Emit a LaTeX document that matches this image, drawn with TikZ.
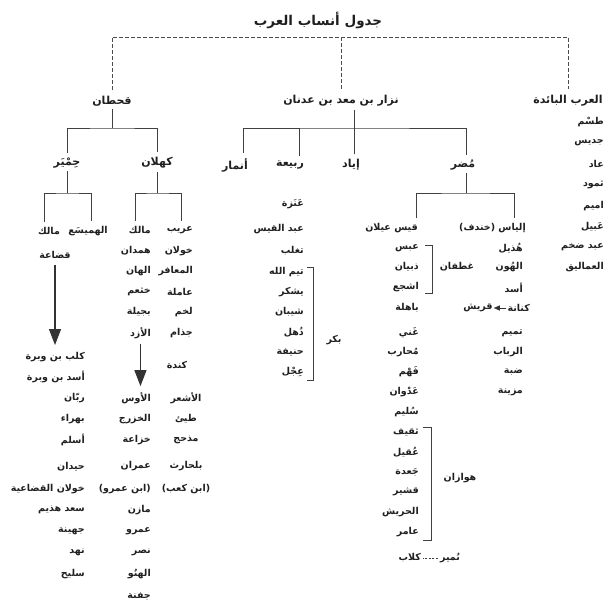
\documentclass[tikz,border=0pt]{standalone}
\usepackage{fontspec}
\newfontfamily\arabicfont[Script=Arabic]{DejaVu Sans}
\TeXXeTstate=1
\usetikzlibrary{arrows.meta}
\newcommand\artxt[1]{\beginR #1\endR}
\begin{document}
\begin{tikzpicture}[x=1pt,y=-1pt,
  it/.style={inner sep=0pt, text=black!88, font=\arabicfont\bfseries\fontsize{9.5}{11}\selectfont},
  hd/.style={inner sep=0pt, text=black!88, font=\arabicfont\bfseries\fontsize{11}{13}\selectfont},
  ttl/.style={inner sep=0pt, text=black!88, font=\arabicfont\bfseries\fontsize{13.5}{15}\selectfont},
  tree/.style={line width=1pt, draw=black!75},
  dsh/.style={line width=0.9pt, dash pattern=on 4pt off 2pt, draw=black!70},
  smalldsh/.style={line width=0.8pt, dash pattern=on 2pt off 1.5pt, draw=black!75},
  brk/.style={line width=0.9pt, draw=black!75},
  bigarrow/.style={line width=1.1pt, draw=black!80, -{Triangle[width=12pt,length=16pt]}},
  smallarrow/.style={line width=0.9pt, draw=black!80, -{Triangle[width=5pt,length=6pt]}}
]
\useasboundingbox (0,0) rectangle (614,608);
\fill[white] (0,0) rectangle (614,608);

% title and first level
\node[ttl] (title) at (318,20) {\artxt{جدول أنساب العرب}};
\node[hd] (qahtan) at (112,101) {\artxt{قحطان}};
\node[hd] (nizar) at (341,101) {\artxt{نزار بن معد بن عدنان}};
\node[hd] (baida) at (568,101) {\artxt{العرب البائدة}};
\coordinate (dJ) at (341,37);
\draw[dsh] ([yshift=6pt]qahtan.north) |- (dJ) -| ([yshift=6pt]baida.north);
\draw[dsh] (dJ) -- ([yshift=6pt]nizar.north);

% al-Arab al-Ba'ida
\foreach \t/\y/\n in {طسْم/122/b1, جديس/143/b2, عاد/164/b3, ثمود/185/b4, اميم/206/b5, عَبيل/227/b6, عبد ضخم/247/b7, العماليق/267/b8}
  \node[it,anchor=east] (\n) at (604,\y) {\artxt{\t}};

% Qahtan
\node[hd] (himyar) at (67,163) {\artxt{حِمْيَر}};
\node[hd] (kahlan) at (157,163) {\artxt{كهلان}};
\coordinate (qJ) at (112,128);
\draw[tree] ([yshift=-3pt]qahtan.south) -- (qJ);
\draw[tree] ([yshift=5pt]himyar.north) |- (qJ) -| ([yshift=5pt]kahlan.north);

% Himyar
\node[it] (hmalik) at (49,231) {\artxt{مالك}};
\node[it] (hamaysa) at (88,231) {\artxt{الهميسَع}};
\coordinate (hJ) at (67,193);
\draw[tree] ([yshift=-3pt]himyar.south) -- (hJ);
\draw[tree] ([xshift=-5pt,yshift=5pt]hmalik.north) |- (hJ) -| ([xshift=3pt,yshift=5pt]hamaysa.north);
\node[it] (qudaa) at (55,255) {\artxt{قضاعة}};
\node[it,anchor=east] (kalb) at (85,357) {\artxt{كلب بن وبرة}};
\draw[bigarrow] ([yshift=-6pt]qudaa.south) -- ([yshift=7pt]qudaa.south |- kalb.north);
\foreach \t/\y/\n in {أسد بن وبرة/377/h2, ربّان/398/h3, بهراء/419/h4, أسلم/440/h5, حيدان/467/h6, خولان القضاعية/489/h7, سعد هذيم/510/h8, جهينة/531/h9, نهد/552/h10, سليح/574/h11}
  \node[it,anchor=east] (\n) at (85,\y) {\artxt{\t}};

% Kahlan
\node[it,anchor=east] (kmalik) at (151,230) {\artxt{مالك}};
\node[it,anchor=east] (arib) at (193,230) {\artxt{عريب}};
\coordinate (kJ) at (157,193);
\draw[tree] ([yshift=-3pt]kahlan.south) -- (kJ);
\draw[tree] ([xshift=-16pt,yshift=5pt]kmalik.north east) |- (kJ) -| ([xshift=-12pt,yshift=5pt]arib.north east);
\foreach \t/\y/\n in {همدان/251/ka2, الهان/271/ka3, خثعم/292/ka4, بجيلة/312/ka5}
  \node[it,anchor=east] (\n) at (151,\y) {\artxt{\t}};
\node[it,anchor=east] (azd) at (151,333) {\artxt{الأزد}};
\foreach \t/\y/\n in {خولان/251/kb2, المعافر/271/kb3, عاملة/292/kb4, لخم/312/kb5, جذام/333/kb6}
  \node[it,anchor=east] (\n) at (193,\y) {\artxt{\t}};
\node[it] (kinda) at (177,365) {\artxt{كندة}};
\node[it,anchor=east] (aws) at (151,398) {\artxt{الأوس}};
\draw[bigarrow] ([yshift=-5pt]azd.south) -- ([yshift=6pt]azd.south |- aws.north);
\foreach \t/\y/\n in {الخزرج/419/kc2, خزاعة/440/kc3, عمران/466/kc4, (ابن عمرو)/489/kc5, مازن/510/kc6, عمرو/531/kc7, نصر/552/kc8, الهنُو/574/kc9, جفنة/596/kc10}
  \node[it,anchor=east] (\n) at (151,\y) {\artxt{\t}};
\foreach \t/\y/\n in {الأشعر/398/kd1, طيئ/419/kd2, مذحج/440/kd3, بلحارث/466/kd4, (ابن كعب)/489/kd5}
  \node[it] (\n) at (186,\y) {\artxt{\t}};

% Nizar
\node[hd] (anmar) at (235,165) {\artxt{أنمار}};
\node[hd] (rabia) at (290,165) {\artxt{ربيعة}};
\node[hd] (iyad) at (351,165) {\artxt{إياد}};
\node[hd] (mudar) at (463,165) {\artxt{مُضر}};
\coordinate (nJ) at (354,128);
\draw[tree] (nJ |- nizar.south) ++(0,3) -- (nJ);
\draw[tree] ([xshift=8pt,yshift=5pt]anmar.north) |- (nJ) -| ([xshift=3pt,yshift=5pt]mudar.north);
\draw[tree] ([xshift=9pt,yshift=5pt]rabia.north) -- ([xshift=9pt]rabia.north |- nJ);
\draw[tree] ([xshift=3pt,yshift=5pt]iyad.north) -- (nJ);

% Rabi'a
\foreach \t/\y/\n in {عَنَزة/204/r1, عبد القيس/229/r2, تغلب/251/r3, تيم الله/272/r4, يشكر/292/r5, شيبان/312/r6, ذُهل/332/r7, حنيفة/352/r8, عِجْل/372/r9}
  \node[it,anchor=east] (\n) at (304,\y) {\artxt{\t}};
\node[it] (bakr) at (334,340) {\artxt{بكر}};
\coordinate (bk1) at (307,267);
\coordinate (bk2) at (307,380);
\draw[brk] (bk1) -- ++(6,0) |- (bk2);

% Mudar
\node[it,anchor=east] (qays) at (418,228) {\artxt{قيس عيلان}};
\node[it,anchor=east] (ilyas) at (526,228) {\artxt{إلياس (خندف)}};
\coordinate (mJ) at (466,193);
\draw[tree] ([xshift=3pt,yshift=-3pt]mudar.south) -- (mJ);
\draw[tree] ([xshift=-2pt,yshift=5pt]qays.north east) |- (mJ) -| ([xshift=-12pt,yshift=5pt]ilyas.north east);
\foreach \t/\y/\n in {عبس/248/q1, ذبيان/267/q2, اشجع/287/q3, باهلة/308/q4, غَني/333/q5, مُحارب/352/q6, فَهْم/372/q7, عَدْوان/392/q8, سُليم/412/q9, ثقيف/432/q10, عُقيل/452/q11, جَعدة/472/q12, قشير/492/q13, الحريش/512/q14, عامر/532/q15}
  \node[it,anchor=east] (\n) at (419,\y) {\artxt{\t}};
\node[it] (ghatafan) at (457,267) {\artxt{غطفان}};
\coordinate (gb1) at (425,245);
\coordinate (gb2) at (425,293);
\draw[brk] (gb1) -- ++(7,0) |- (gb2);
\node[it] (hawazin) at (460,478) {\artxt{هوازان}};
\coordinate (hb1) at (423,427);
\coordinate (hb2) at (423,540);
\draw[brk] (hb1) -- ++(8,0) |- (hb2);
\node[it,anchor=east] (kilab) at (421,558) {\artxt{كلاب}};
\node[it] (numayr) at (450,558) {\artxt{نُمير}};
\draw[smalldsh] ([xshift=-2pt]numayr.west) -- ([xshift=2pt]kilab.east);

\foreach \t/\y/\n in {هُذيل/248/i1, الهُون/267/i2, أسد/288/i3, تميم/333/i5, الرباب/352/i6, ضبة/372/i7, مزينة/392/i8}
  \node[it,anchor=east] (\n) at (523,\y) {\artxt{\t}};
\node[it,anchor=east] (kinana) at (530,308) {\artxt{كنانة}};
\node[it] (quraysh) at (478,308) {\artxt{قريش}};
\draw[smallarrow] ([xshift=-1pt]kinana.west) -- ([xshift=1pt]quraysh.east);
\end{tikzpicture}
\end{document}
